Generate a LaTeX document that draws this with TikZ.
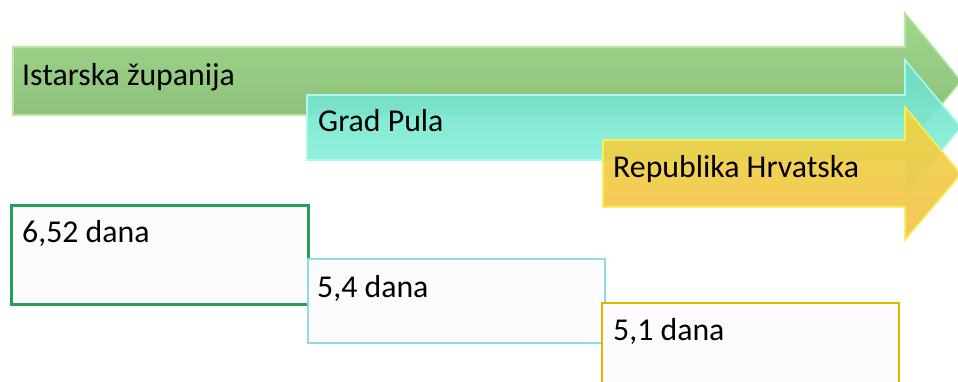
\documentclass[tikz,border=0pt]{standalone}
\usepackage{fontspec}
\setmainfont{Carlito}
\definecolor{gTop}{HTML}{96D480}
\definecolor{gBot}{HTML}{80B46E}
\definecolor{gLine}{HTML}{B4E8A0}
\definecolor{cTop}{HTML}{6ADCC4}
\definecolor{cBot}{HTML}{92F6E2}
\definecolor{cLine}{HTML}{A8FAEE}
\definecolor{yTop}{HTML}{EED53E}
\definecolor{yBot}{HTML}{F4C24C}
\definecolor{yLine}{HTML}{F8EE5E}
\definecolor{bGreen}{HTML}{22A055}
\definecolor{bCyan}{HTML}{8CDCE8}
\definecolor{bGold}{HTML}{E2B400}
\definecolor{bFill}{HTML}{FDFBFE}
\begin{document}
\begin{tikzpicture}[x=1pt,y=-1pt,
  lbl/.style={anchor=base west,inner sep=0pt,font=\fontsize{31.8}{36}\selectfont},
  arrowshape/.style={line width=1.6pt,line join=miter,fill opacity=0.92},
  datebox/.style={anchor=north west,inner sep=0pt,fill=bFill,line width=2pt}]
\useasboundingbox (0,0) rectangle (958,381);
\clip (0,0) rectangle (958,381);
% arrows
\shade[arrowshape,top color=gTop,bottom color=gBot,draw=gLine]
  (13,47) -- (905,47) -- (905,13) -- (961,81) -- (905,149) -- (905,115) -- (13,115) -- cycle;
\shade[arrowshape,top color=cTop,bottom color=cBot,draw=cLine]
  (307,95) -- (905,95) -- (905,60) -- (961,127) -- (905,195) -- (905,160) -- (307,160) -- cycle;
\shade[arrowshape,top color=yTop,bottom color=yBot,draw=yLine]
  (603,140) -- (905,140) -- (905,107) -- (961,174) -- (905,240) -- (905,207) -- (603,207) -- cycle;
\node[lbl] (t1) at (22,85) {Istarska županija};
\node[lbl] (t2) at (318,131) {Grad Pula};
\node[lbl] (t3) at (613,177) {Republika Hrvatska};
% boxes
\node[datebox,draw=bGreen,minimum width=297pt,minimum height=99pt,line width=2.6pt] (b1) at (10,204) {};
\node[datebox,draw=bCyan,minimum width=297pt,minimum height=84pt] (b2) at (307,258) {};
\node[datebox,draw=bGold,minimum width=297pt,minimum height=110pt] (b3) at (601,302) {};
\node[lbl] (d1) at (22,242) {6,52 dana};
\node[lbl] (d2) at (317,297) {5,4 dana};
\node[lbl] (d3) at (613,340) {5,1 dana};
\end{tikzpicture}
\end{document}
